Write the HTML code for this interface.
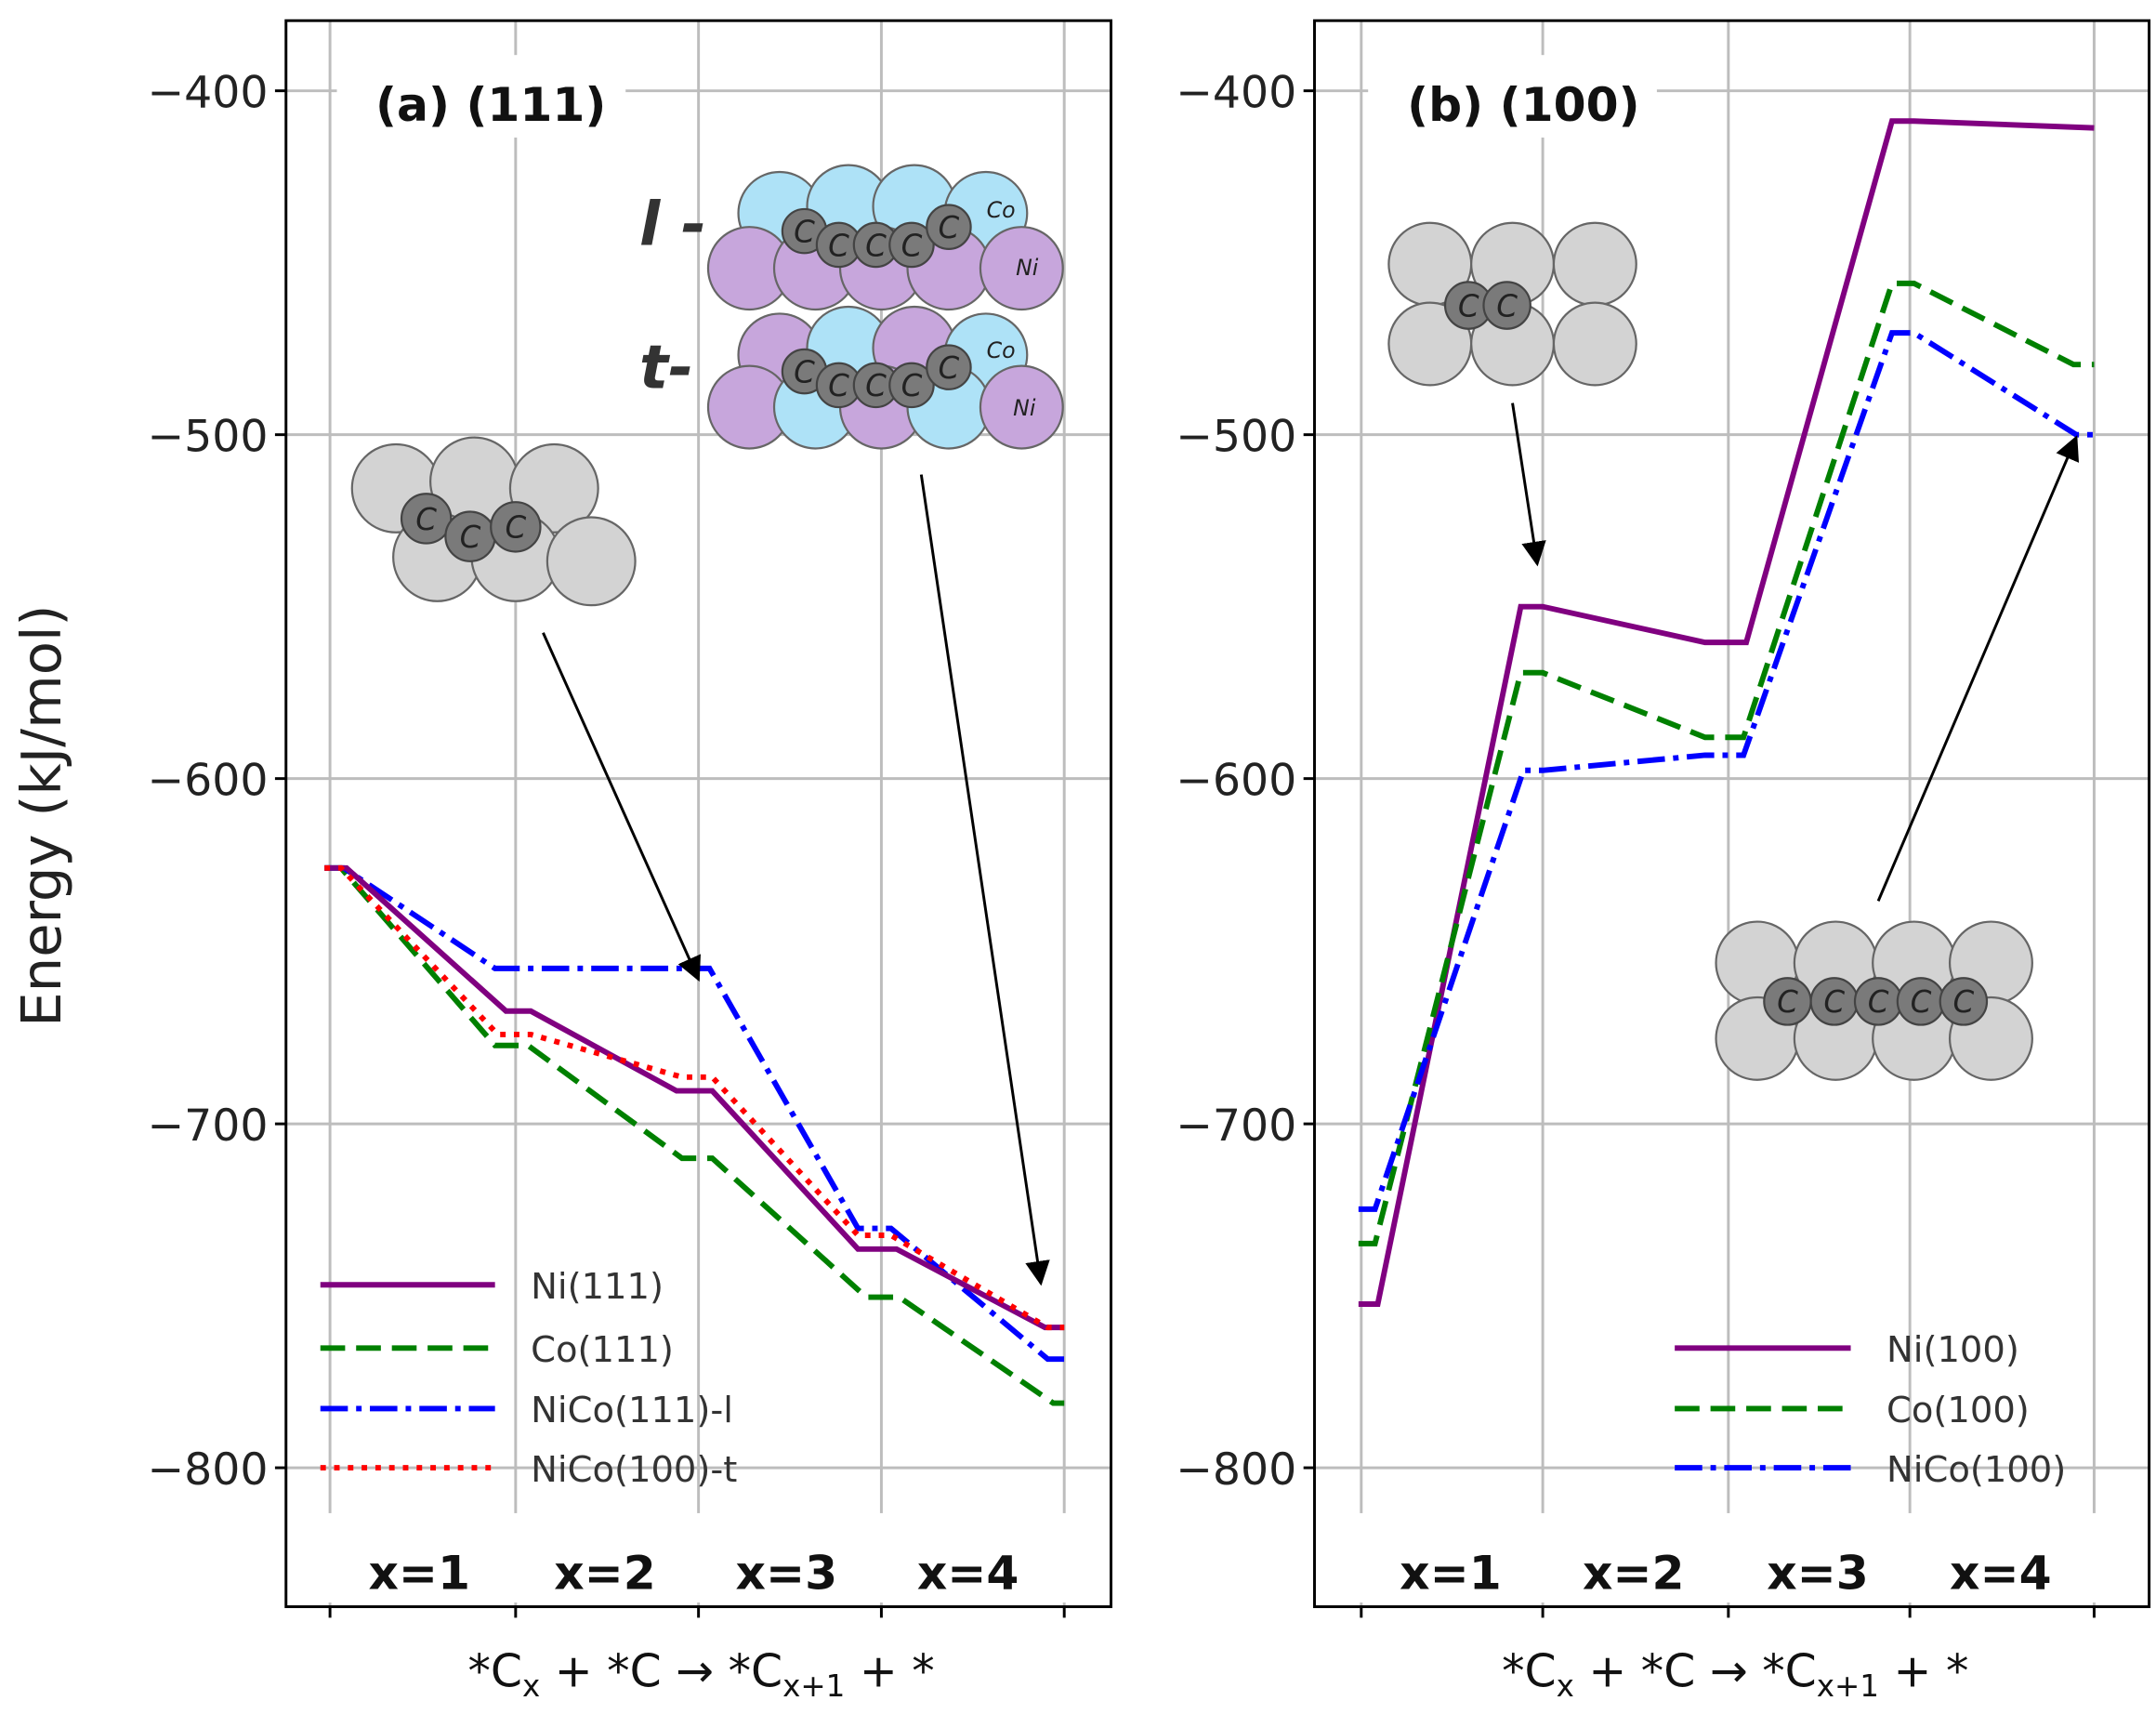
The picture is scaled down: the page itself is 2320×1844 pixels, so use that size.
<!DOCTYPE html>
<html><head><meta charset="utf-8"><style>
html,body{margin:0;padding:0;background:#fff;}
svg{display:block;}
text{font-family:"DejaVu Sans","Liberation Sans",sans-serif;}
</style></head><body>
<svg width="2320" height="1844" viewBox="0 0 1568 1246" preserveAspectRatio="none" xmlns="http://www.w3.org/2000/svg">
<defs>
<marker id="ah" viewBox="0 0 10 10" refX="9" refY="5" markerWidth="9" markerHeight="9" orient="auto"><path d="M0,0 L10,5 L0,10 z" fill="#000"/></marker>
</defs>
<g stroke="#bdbdbd" stroke-width="2">
<line x1="240" y1="15" x2="240" y2="1168"/><line x1="375" y1="15" x2="375" y2="1168"/><line x1="508" y1="15" x2="508" y2="1168"/><line x1="641" y1="15" x2="641" y2="1168"/><line x1="774" y1="15" x2="774" y2="1168"/>
<line x1="208" y1="66" x2="808" y2="66"/><line x1="208" y1="316" x2="808" y2="316"/><line x1="208" y1="566" x2="808" y2="566"/><line x1="208" y1="817" x2="808" y2="817"/><line x1="208" y1="1067" x2="808" y2="1067"/>
<line x1="990" y1="15" x2="990" y2="1168"/><line x1="1122" y1="15" x2="1122" y2="1168"/><line x1="1257" y1="15" x2="1257" y2="1168"/><line x1="1389" y1="15" x2="1389" y2="1168"/><line x1="1523" y1="15" x2="1523" y2="1168"/>
<line x1="956" y1="66" x2="1563" y2="66"/><line x1="956" y1="316" x2="1563" y2="316"/><line x1="956" y1="566" x2="1563" y2="566"/><line x1="956" y1="817" x2="1563" y2="817"/><line x1="956" y1="1067" x2="1563" y2="1067"/>
</g>
<rect x="245" y="40" width="210" height="60" fill="#fff"/>
<rect x="995" y="40" width="210" height="60" fill="#fff"/>
<rect x="215" y="1100" width="588" height="65" fill="#fff"/>
<rect x="962" y="1100" width="596" height="65" fill="#fff"/>
<g fill="none" stroke="#000" stroke-width="2">
<rect x="208" y="15" width="600" height="1153"/><rect x="956" y="15" width="607" height="1153"/>
</g>
<g stroke="#000" stroke-width="2">
<line x1="200" y1="66" x2="208" y2="66"/><line x1="200" y1="316" x2="208" y2="316"/><line x1="200" y1="566" x2="208" y2="566"/><line x1="200" y1="817" x2="208" y2="817"/><line x1="200" y1="1067" x2="208" y2="1067"/>
<line x1="948" y1="66" x2="956" y2="66"/><line x1="948" y1="316" x2="956" y2="316"/><line x1="948" y1="566" x2="956" y2="566"/><line x1="948" y1="817" x2="956" y2="817"/><line x1="948" y1="1067" x2="956" y2="1067"/>
<line x1="240" y1="1168" x2="240" y2="1176"/><line x1="375" y1="1168" x2="375" y2="1176"/><line x1="508" y1="1168" x2="508" y2="1176"/><line x1="641" y1="1168" x2="641" y2="1176"/><line x1="774" y1="1168" x2="774" y2="1176"/>
<line x1="990" y1="1168" x2="990" y2="1176"/><line x1="1122" y1="1168" x2="1122" y2="1176"/><line x1="1257" y1="1168" x2="1257" y2="1176"/><line x1="1389" y1="1168" x2="1389" y2="1176"/><line x1="1523" y1="1168" x2="1523" y2="1176"/>
</g>
<g font-size="32" fill="#222" text-anchor="end">
<text x="195" y="78">−400</text><text x="195" y="328">−500</text><text x="195" y="578">−600</text><text x="195" y="829">−700</text><text x="195" y="1079">−800</text>
<text x="943" y="78">−400</text><text x="943" y="328">−500</text><text x="943" y="578">−600</text><text x="943" y="829">−700</text><text x="943" y="1079">−800</text>
</g>
<text transform="translate(44,593) rotate(-90)" font-size="40" text-anchor="middle" fill="#222">Energy (kJ/mol)</text>
<g font-size="33" fill="#111" text-anchor="middle">
<text x="510" y="1226">*C<tspan font-size="22" dy="7">x</tspan><tspan dy="-7"> + *C → *C</tspan><tspan font-size="22" dy="7">x+1</tspan><tspan dy="-7"> + *</tspan></text>
<text x="1262" y="1226">*C<tspan font-size="22" dy="7">x</tspan><tspan dy="-7"> + *C → *C</tspan><tspan font-size="22" dy="7">x+1</tspan><tspan dy="-7"> + *</tspan></text>
</g>
<g font-size="34" font-weight="bold" fill="#111" text-anchor="middle">
<text x="305" y="1155">x=1</text><text x="440" y="1155">x=2</text><text x="572" y="1155">x=3</text><text x="704" y="1155">x=4</text>
<text x="1055" y="1155">x=1</text><text x="1188" y="1155">x=2</text><text x="1322" y="1155">x=3</text><text x="1455" y="1155">x=4</text>
<text x="357" y="88">(a) (111)</text><text x="1108" y="88">(b) (100)</text>
</g>
<g fill="none" stroke-width="4">
<polyline stroke="#008000" stroke-dasharray="18,8" points="236,631 248,631 360,760 384,760 496,842 518,842 630,943 654,943 766,1020 774,1020"/>
<polyline stroke="#0000ff" stroke-dasharray="20,6,4,6" points="236,631 250,631 360,704 516,704 624,893 648,893 762,988 774,988"/>
<polyline stroke="#800080" points="236,631 252,631 368,735 386,735 492,793 518,793 624,908 652,908 760,965 774,965"/>
<polyline stroke="#ff0000" stroke-dasharray="4,6" points="236,631 248,631 362,752 386,752 496,783 518,783 624,898 648,898 762,965 774,965"/>
</g>
<g fill="none" stroke-width="4">
<polyline stroke="#800080" points="988,948 1002,948 1106,441 1122,441 1240,467 1270,467 1376,88 1392,88 1523,93"/>
<polyline stroke="#008000" stroke-dasharray="18,8" points="988,904 1000,904 1106,489 1122,489 1240,536 1268,536 1376,206 1392,206 1508,265 1523,265"/>
<polyline stroke="#0000ff" stroke-dasharray="20,6,4,6" points="988,879 1000,879 1108,560 1122,560 1240,549 1268,549 1376,242 1392,242 1510,316 1523,316"/>
</g>
<g stroke-width="4">
<line x1="233" y1="934" x2="360" y2="934" stroke="#800080"/>
<line x1="233" y1="980" x2="360" y2="980" stroke="#008000" stroke-dasharray="18,8"/>
<line x1="233" y1="1024" x2="360" y2="1024" stroke="#0000ff" stroke-dasharray="20,6,4,6"/>
<line x1="233" y1="1067" x2="360" y2="1067" stroke="#ff0000" stroke-dasharray="4,6"/>
<line x1="1218" y1="980" x2="1346" y2="980" stroke="#800080"/>
<line x1="1218" y1="1024" x2="1346" y2="1024" stroke="#008000" stroke-dasharray="18,8"/>
<line x1="1218" y1="1067" x2="1346" y2="1067" stroke="#0000ff" stroke-dasharray="20,6,4,6"/>
</g>
<g font-size="26" fill="#333">
<text x="386" y="944">Ni(111)</text><text x="386" y="990">Co(111)</text><text x="386" y="1034">NiCo(111)-l</text><text x="386" y="1077">NiCo(100)-t</text>
<text x="1372" y="990">Ni(100)</text><text x="1372" y="1034">Co(100)</text><text x="1372" y="1077">NiCo(100)</text>
</g>
<g stroke="#666" stroke-width="1.5" fill="#d3d3d3">
<circle cx="288" cy="355" r="32"/><circle cx="345" cy="350" r="32"/><circle cx="403" cy="355" r="32"/>
<circle cx="318" cy="405" r="32"/><circle cx="375" cy="405" r="32"/><circle cx="430" cy="408" r="32"/>
<circle cx="1040" cy="192" r="30"/><circle cx="1100" cy="192" r="30"/><circle cx="1160" cy="192" r="30"/>
<circle cx="1040" cy="250" r="30"/><circle cx="1100" cy="250" r="30"/><circle cx="1160" cy="250" r="30"/>
<circle cx="1278" cy="700" r="30"/><circle cx="1335" cy="700" r="30"/><circle cx="1392" cy="700" r="30"/><circle cx="1448" cy="700" r="30"/>
<circle cx="1278" cy="755" r="30"/><circle cx="1335" cy="755" r="30"/><circle cx="1392" cy="755" r="30"/><circle cx="1448" cy="755" r="30"/>
</g>
<g stroke="#666" stroke-width="1.5">
<circle cx="567" cy="155" r="30" fill="#aee2f7"/><circle cx="617" cy="150" r="30" fill="#aee2f7"/><circle cx="665" cy="150" r="30" fill="#aee2f7"/><circle cx="717" cy="155" r="30" fill="#aee2f7"/>
<circle cx="545" cy="195" r="30" fill="#c7a6dc"/><circle cx="593" cy="195" r="30" fill="#c7a6dc"/><circle cx="641" cy="195" r="30" fill="#c7a6dc"/><circle cx="690" cy="195" r="30" fill="#c7a6dc"/><circle cx="743" cy="195" r="30" fill="#c7a6dc"/>
<circle cx="567" cy="258" r="30" fill="#c7a6dc"/><circle cx="617" cy="253" r="30" fill="#aee2f7"/><circle cx="665" cy="253" r="30" fill="#c7a6dc"/><circle cx="717" cy="258" r="30" fill="#aee2f7"/>
<circle cx="545" cy="296" r="30" fill="#c7a6dc"/><circle cx="593" cy="296" r="30" fill="#aee2f7"/><circle cx="641" cy="296" r="30" fill="#c7a6dc"/><circle cx="690" cy="296" r="30" fill="#aee2f7"/><circle cx="743" cy="296" r="30" fill="#c7a6dc"/>
</g>
<g stroke="#444" stroke-width="1.5" fill="#7a7a7a">
<circle cx="310" cy="377" r="18"/><circle cx="342" cy="390" r="18"/><circle cx="375" cy="383" r="18"/>
<circle cx="1068" cy="222" r="17"/><circle cx="1096" cy="222" r="17"/>
<circle cx="1300" cy="728" r="17"/><circle cx="1334" cy="728" r="17"/><circle cx="1366" cy="728" r="17"/><circle cx="1397" cy="728" r="17"/><circle cx="1428" cy="728" r="17"/>
<circle cx="585" cy="168" r="16"/><circle cx="610" cy="178" r="16"/><circle cx="637" cy="178" r="16"/><circle cx="663" cy="178" r="16"/><circle cx="690" cy="165" r="16"/>
<circle cx="585" cy="270" r="16"/><circle cx="610" cy="280" r="16"/><circle cx="637" cy="280" r="16"/><circle cx="663" cy="280" r="16"/><circle cx="690" cy="267" r="16"/>
</g>
<g font-size="22" font-style="italic" fill="#222" text-anchor="middle">
<text x="310" y="385">C</text><text x="342" y="398">C</text><text x="375" y="391">C</text>
<text x="1068" y="230">C</text><text x="1096" y="230">C</text>
<text x="1300" y="736">C</text><text x="1334" y="736">C</text><text x="1366" y="736">C</text><text x="1397" y="736">C</text><text x="1428" y="736">C</text>
<text x="585" y="176">C</text><text x="610" y="186">C</text><text x="637" y="186">C</text><text x="663" y="186">C</text><text x="690" y="173">C</text>
<text x="585" y="278">C</text><text x="610" y="288">C</text><text x="637" y="288">C</text><text x="663" y="288">C</text><text x="690" y="275">C</text>
<text x="728" y="158" font-size="16">Co</text><text x="747" y="200" font-size="16">Ni</text>
<text x="728" y="260" font-size="16">Co</text><text x="745" y="302" font-size="16">Ni</text>
</g>
<g font-size="44" font-weight="bold" font-style="italic" fill="#333">
<text x="465" y="178">l -</text><text x="465" y="282">t-</text>
</g>
<g stroke="#000" stroke-width="2" fill="none">
<line x1="395" y1="460" x2="508" y2="712" marker-end="url(#ah)"/>
<line x1="670" y1="345" x2="757" y2="933" marker-end="url(#ah)"/>
<line x1="1100" y1="293" x2="1118" y2="410" marker-end="url(#ah)"/>
<line x1="1366" y1="655" x2="1510" y2="318" marker-end="url(#ah)"/>
</g>
</svg>
</body></html>
